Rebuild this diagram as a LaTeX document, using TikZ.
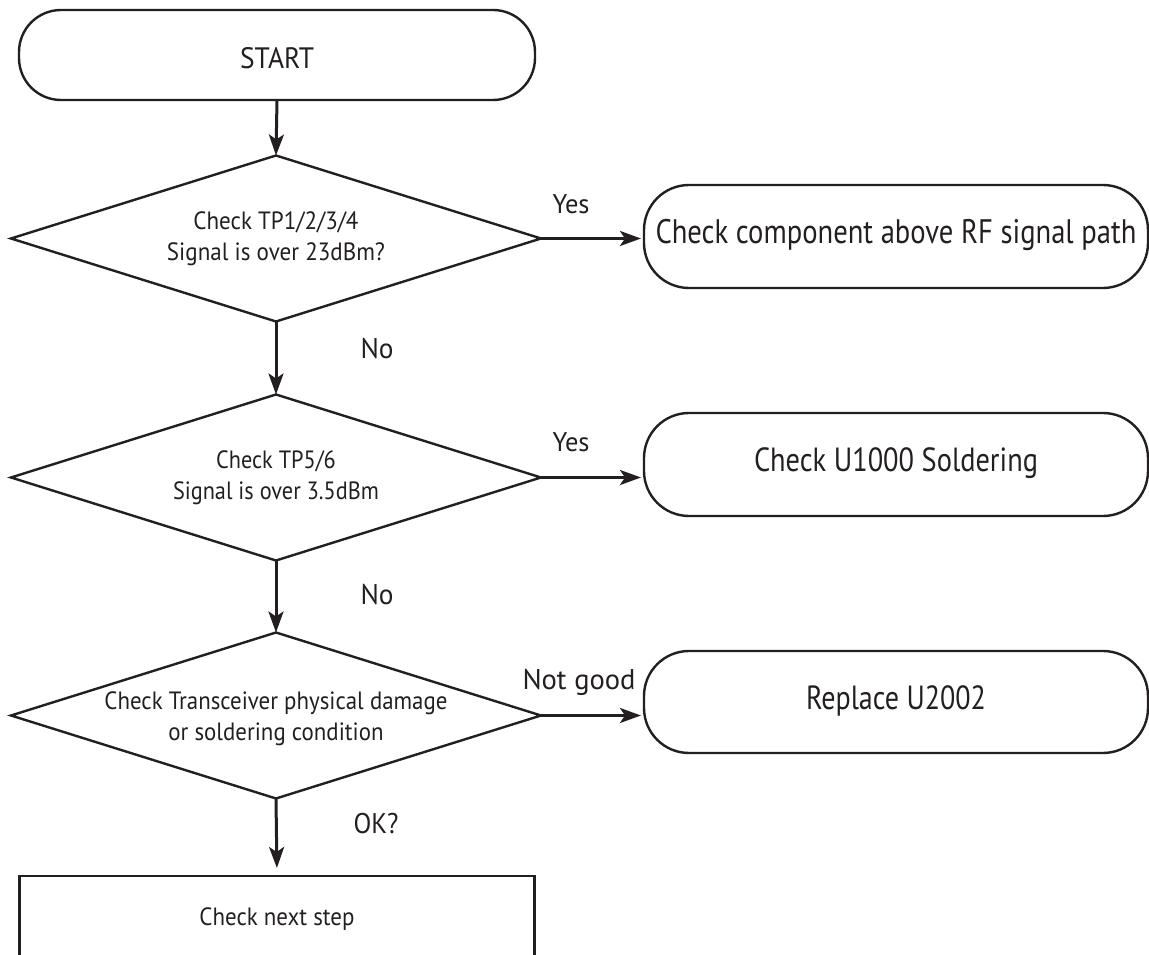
\documentclass[tikz,border=0pt]{standalone}
\usepackage{fontspec}
\usepackage{graphicx}
\setmainfont{PT Sans}
\usetikzlibrary{shapes.geometric,arrows.meta}
\definecolor{ink}{HTML}{231F20}
\newcommand\fitw[3]{\resizebox{#1}{\height}{\fontsize{#2}{31}\selectfont\begin{tabular}{@{}c@{}}#3\end{tabular}}}
\begin{document}
\begin{tikzpicture}[x=1pt,y=1pt,
  every node/.style={text=ink,inner sep=0pt,outer sep=0pt},
  pill/.style={draw=ink,line width=2.4pt,rounded corners=45pt,minimum width=504pt,minimum height=103pt,align=center},
  dia/.style={draw=ink,line width=2.4pt,diamond,shape aspect=3.19,inner sep=-10pt,minimum width=530pt,minimum height=166pt,align=center},
  plain/.style={draw=ink,line width=2.4pt,rectangle,minimum width=515pt,minimum height=86pt},
  arr/.style={draw=ink,line width=3pt,-{Stealth[length=21pt,width=15pt,inset=5pt]}}
]
\useasboundingbox (0,0) rectangle (1149,954);
\clip (0,0) rectangle (1149,954);
\node[pill,minimum width=516pt,minimum height=90pt,rounded corners=42pt] (start) at (277,899) {\raisebox{-7pt}[\height][\depth]{\fitw{74pt}{29.5}{START}}};
\node[dia] (d1) at (276,715.5) {\fitw{218pt}{25}{Check TP1/2/3/4\\Signal is over 23dBm?}};
\node[dia] (d2) at (276,476.5) {\fitw{206pt}{25}{Check TP5/6\\Signal is over 3.5dBm}};
\node[dia] (d3) at (276,238.5) {\raisebox{-3pt}[\height][\depth]{\fitw{343pt}{25}{Check Transceiver physical damage\\or soldering condition}}};
\node[plain] (next) at (277,35) {\fitw{155pt}{25}{Check next step}};
\node[pill] (r1) at (896,717.5) {\fitw{481pt}{34}{Check component above RF signal path}};
\node[pill] (r2) at (896,489.5) {\fitw{284pt}{33.5}{Check U1000 Soldering}};
\node[pill,minimum height=102pt] (r3) at (896,252) {\fitw{180pt}{33.5}{Replace U2002}};
\draw[arr] (start.south) -- (d1.north);
\draw[arr] (d1.south) -- (d2.north);
\draw[arr] (d2.south) -- (d3.north);
\draw[arr,shorten >=8pt] (d3.south) -- (next.north);
\draw[arr,shorten >=3pt] (d1.east) -- (d1.east -| r1.west);
\draw[arr,shorten >=3pt] (d2.east) -- (d2.east -| r2.west);
\draw[arr,shorten >=3pt] (d3.east) -- (d3.east -| r3.west);
\node (y1) at (571,747) {\fitw{37pt}{27}{Yes}};
\node (y2) at (571,509) {\fitw{37pt}{27}{Yes}};
\node (n1) at (377,602) {\fitw{33pt}{28.5}{No}};
\node (n2) at (377,356) {\fitw{33pt}{28.5}{No}};
\node (ng) at (579,271) {\fitw{113pt}{28.5}{Not good}};
\node (ok) at (376,127) {\fitw{45pt}{28.5}{OK?}};
\end{tikzpicture}
\end{document}
